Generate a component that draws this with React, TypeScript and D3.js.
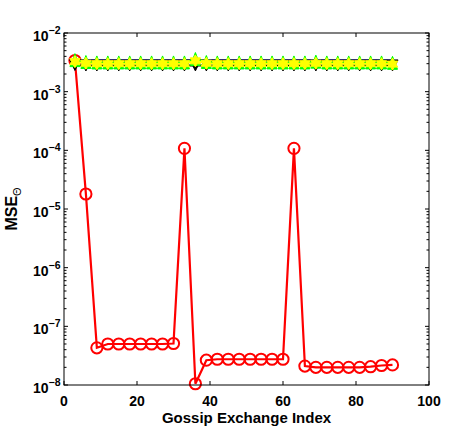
import React from "react";
import * as d3 from "d3";

const W = 472;
const H = 434;

// Red series (circles), sampled every 3 exchanges
const redX = [3, 6, 9, 12, 15, 18, 21, 24, 27, 30, 33, 36, 39, 42, 45, 48, 51, 54, 57, 60, 63, 66, 69, 72, 75, 78, 81, 84, 87, 90];
const redY = [3.4e-3, 1.8e-5, 4.3e-8, 5.0e-8, 5.0e-8, 5.0e-8, 5.0e-8, 5.0e-8, 5.0e-8, 5.1e-8, 1.08e-4, 1.05e-8, 2.65e-8, 2.75e-8, 2.75e-8, 2.75e-8, 2.75e-8, 2.75e-8, 2.75e-8, 2.75e-8, 1.08e-4, 2.1e-8, 2.0e-8, 2.0e-8, 2.0e-8, 2.0e-8, 2.0e-8, 2.05e-8, 2.15e-8, 2.2e-8];

// Other series, same exchange indices
const otherX = [3, 6, 9, 12, 15, 18, 21, 24, 27, 30, 33, 36, 39, 42, 45, 48, 51, 54, 57, 60, 63, 66, 69, 72, 75, 78, 81, 84, 87, 90];
const blackY = [2.85e-3, 2.8e-3, 2.8e-3, 2.8e-3, 2.8e-3, 2.8e-3, 2.8e-3, 2.8e-3, 2.8e-3, 2.8e-3, 2.8e-3, 2.8e-3, 2.8e-3, 2.8e-3, 2.8e-3, 2.8e-3, 2.8e-3, 2.8e-3, 2.8e-3, 2.8e-3, 2.8e-3, 2.8e-3, 2.8e-3, 2.8e-3, 2.8e-3, 2.8e-3, 2.8e-3, 2.8e-3, 2.8e-3, 2.8e-3];
const blueY = [3.4e-3, 3.4e-3, 3.4e-3, 3.4e-3, 3.4e-3, 3.4e-3, 3.4e-3, 3.4e-3, 3.4e-3, 3.4e-3, 3.4e-3, 3.4e-3, 3.4e-3, 3.4e-3, 3.4e-3, 3.4e-3, 3.4e-3, 3.4e-3, 3.4e-3, 3.4e-3, 3.4e-3, 3.4e-3, 3.4e-3, 3.4e-3, 3.4e-3, 3.4e-3, 3.4e-3, 3.4e-3, 3.4e-3, 3.4e-3];
const greenY = [3.45e-3, 3.2e-3, 3.15e-3, 3.15e-3, 3.15e-3, 3.15e-3, 3.15e-3, 3.15e-3, 3.15e-3, 3.15e-3, 3.15e-3, 3.6e-3, 3.2e-3, 3.15e-3, 3.15e-3, 3.15e-3, 3.15e-3, 3.15e-3, 3.15e-3, 3.15e-3, 3.15e-3, 3.15e-3, 3.25e-3, 3.15e-3, 3.15e-3, 3.15e-3, 3.15e-3, 3.15e-3, 3.15e-3, 3.1e-3];
const yellowY = [3.25e-3, 3.05e-3, 3.0e-3, 3.0e-3, 3.0e-3, 3.0e-3, 3.0e-3, 3.0e-3, 3.0e-3, 3.0e-3, 3.0e-3, 3.35e-3, 3.05e-3, 3.0e-3, 3.0e-3, 3.0e-3, 3.0e-3, 3.0e-3, 3.0e-3, 3.0e-3, 3.0e-3, 3.0e-3, 3.05e-3, 3.0e-3, 3.0e-3, 3.0e-3, 3.0e-3, 3.0e-3, 3.0e-3, 2.95e-3];

const xTicks = [0, 20, 40, 60, 80, 100];
const yExps = [-2, -3, -4, -5, -6, -7, -8];
const xLabel = "Gossip Exchange Index";

const FONT = "'Liberation Sans', Arial, Helvetica, sans-serif";

function hexagramPath(R: number): string {
  const r = R / Math.sqrt(3);
  const pts: [number, number][] = [];
  for (let i = 0; i < 12; i++) {
    const ang = -Math.PI / 2 + (i * Math.PI) / 6;
    const rad = i % 2 === 0 ? R : r;
    pts.push([rad * Math.cos(ang), rad * Math.sin(ang)]);
  }
  return "M" + pts.map((p) => p[0].toFixed(2) + "," + p[1].toFixed(2)).join("L") + "Z";
}

function triPath(w: number, h: number, down: boolean): string {
  if (down) return `M${-w / 2},${-h / 2}L${w / 2},${-h / 2}L0,${h / 2}Z`;
  return `M${-w / 2},${h / 2}L${w / 2},${h / 2}L0,${-h / 2}Z`;
}

export default function App() {
  const left = 64, right = 429, top = 33, bottom = 385;
  const x = d3.scaleLinear().domain([0, 100]).range([left, right]);
  const y = d3.scaleLog().domain([1e-8, 1e-2]).range([bottom, top]);

  const line = (xs: number[], ys: number[]) =>
    d3.line<number>().x((_, i) => x(xs[i])).y((d) => y(d))(ys) || "";

  const minorTicks: number[] = [];
  for (let e = -8; e < -2; e++) {
    for (let m = 2; m <= 9; m++) minorTicks.push(m * Math.pow(10, e));
  }

  const hex = hexagramPath(6);
  const triDown = triPath(11, 11, true);
  const triUp = triPath(10, 13, false);

  return (
    <svg width={W} height={H} style={{ position: "absolute", left: 0, top: 0, background: "#fff" }} fontFamily={FONT}>
      <rect x={0} y={0} width={W} height={H} fill="#fff" />

      {/* series */}
      <g>
        <path d={line(redX, redY)} fill="none" stroke="#ff0000" strokeWidth={2.2} />
        {redX.map((xv, i) => (
          <circle key={"r" + i} cx={x(xv)} cy={y(redY[i])} r={5.6} fill="none" stroke="#ff0000" strokeWidth={2} />
        ))}

        <path d={line(otherX, blueY)} fill="none" stroke="#0000ff" strokeWidth={2} />

        <path d={line(otherX, blackY)} fill="none" stroke="#000" strokeWidth={2} />
        {otherX.map((xv, i) => (
          <path key={"k" + i} d={triDown} transform={`translate(${x(xv)},${y(blackY[i])})`} fill="#000" stroke="#000" strokeWidth={1} />
        ))}

        <path d={line(otherX, greenY)} fill="none" stroke="#00ff00" strokeWidth={2} />
        {otherX.map((xv, i) => (
          <path key={"g" + i} d={triUp} transform={`translate(${x(xv)},${y(greenY[i])})`} fill="#00ff00" stroke="#00ff00" strokeWidth={1} />
        ))}

        <path d={line(otherX, yellowY)} fill="none" stroke="#ffff00" strokeWidth={2} />
        {otherX.map((xv, i) => (
          <path key={"y" + i} d={hex} transform={`translate(${x(xv)},${y(yellowY[i])})`} fill="#ffff00" stroke="#ffff00" strokeWidth={1} />
        ))}
      </g>

      {/* axes box */}
      <rect x={left} y={top} width={right - left} height={bottom - top} fill="none" stroke="#000" strokeWidth={1} />

      {/* x ticks */}
      {xTicks.map((t) => (
        <g key={"xt" + t}>
          <line x1={x(t)} x2={x(t)} y1={bottom} y2={bottom - 4} stroke="#000" />
          <line x1={x(t)} x2={x(t)} y1={top} y2={top + 4} stroke="#000" />
          <text x={x(t)} y={bottom + 21} textAnchor="middle" fontSize={14} fontWeight="bold">{t}</text>
        </g>
      ))}

      {/* y major ticks */}
      {yExps.map((e) => {
        const yy = y(Math.pow(10, e));
        return (
          <g key={"yt" + e}>
            <line x1={left} x2={left + 4} y1={yy} y2={yy} stroke="#000" />
            <line x1={right} x2={right - 4} y1={yy} y2={yy} stroke="#000" />
            <text x={33} y={yy + 8} fontSize={14} fontWeight="bold">
              10
              <tspan dy={-7} fontSize={10.5}>{"\u2212" + Math.abs(e)}</tspan>
            </text>
          </g>
        );
      })}
      {minorTicks.map((v, i) => (
        <g key={"mt" + i}>
          <line x1={left} x2={left + 2.5} y1={y(v)} y2={y(v)} stroke="#000" />
          <line x1={right} x2={right - 2.5} y1={y(v)} y2={y(v)} stroke="#000" />
        </g>
      ))}

      {/* labels */}
      <text x={x(50)} y={423} textAnchor="middle" fontSize={15} fontWeight="bold">{xLabel}</text>
      <text transform={`translate(17,${(top + bottom) / 2}) rotate(-90)`} textAnchor="middle" fontSize={16} fontWeight="bold">
        MSE
        <tspan dy={4} fontSize={11} fontWeight="normal">Θ</tspan>
      </text>
    </svg>
  );
}
